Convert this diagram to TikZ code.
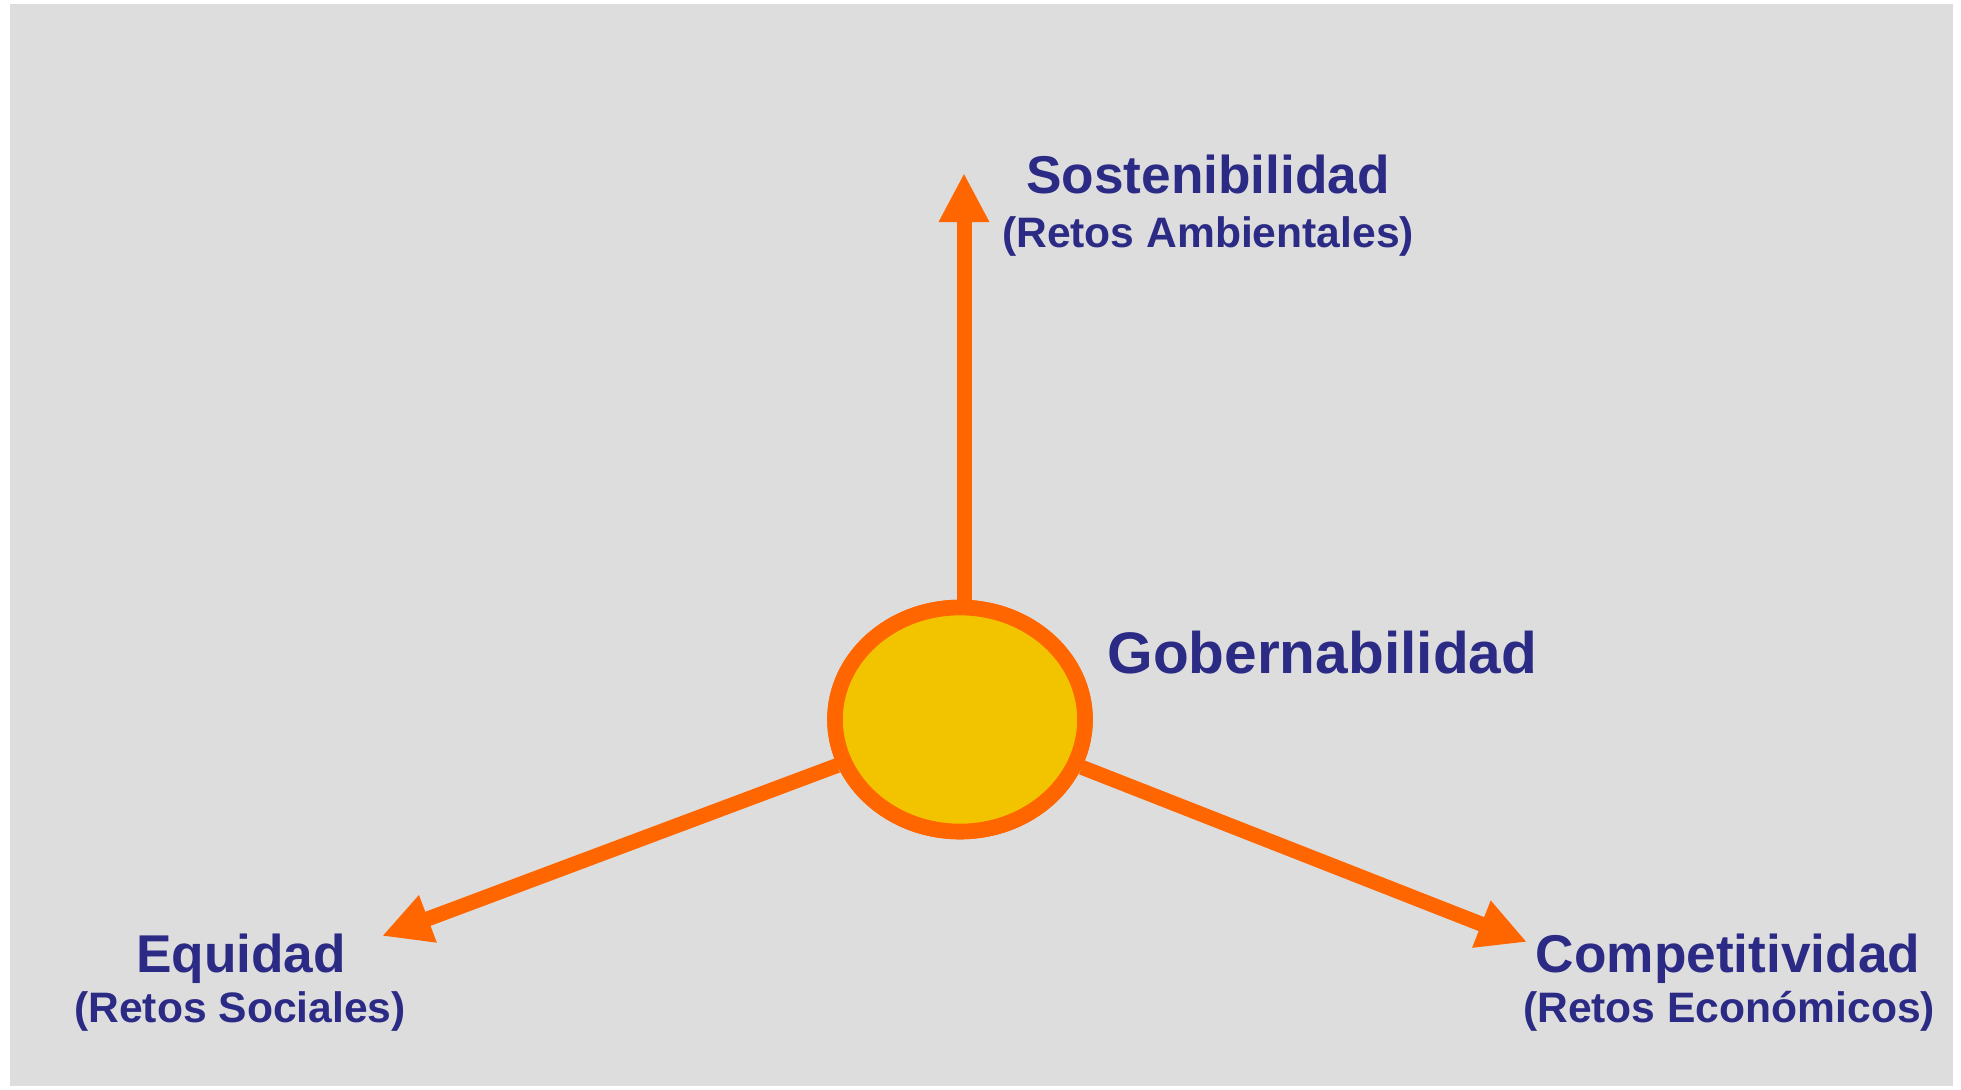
\documentclass[tikz,border=0pt]{standalone}
\usepackage{fontspec}
\setmainfont{Liberation Sans}
\usetikzlibrary{arrows.meta,shapes.geometric}
\definecolor{bggray}{HTML}{DDDDDD}
\definecolor{navy}{HTML}{2B2A85}
\definecolor{orng}{HTML}{FF6600}
\definecolor{yel}{HTML}{F2C400}
\tikzset{
  title/.style={text=navy, anchor=base, inner sep=0pt, font=\bfseries\fontsize{26.6pt}{30pt}\selectfont},
  subtitle/.style={text=navy, anchor=base, inner sep=0pt, font=\bfseries\fontsize{21.3pt}{24pt}\selectfont},
  axis/.style={draw=orng, line width=7.5pt, -{Triangle[width=23.5pt,length=24.5pt]}},
  hub/.style={ellipse, draw=orng, fill=yel, line width=7.8pt, minimum width=125pt, minimum height=112pt, inner sep=0pt}
}
\begin{document}
\begin{tikzpicture}[x=0.5pt,y=-0.5pt]
\useasboundingbox (0,0) rectangle (1961,1089);
\fill[bggray] (10,4) rectangle (1953,1086);
% tips
\coordinate (ts) at (964,173);
\coordinate (tl) at (382,936);
\coordinate (tr) at (1527,942);
\node[hub] (g) at (960,719.5) {};
\draw[axis] (g.north -| ts) -- (ts);
\draw[axis] (g) -- (tl);
\draw[axis] (g) -- (tr);
\node[hub] at (960,719.5) {};
% labels
\node[title] (s1) at (1208,193) {Sostenibilidad};
\node[subtitle] (s2) at (1208,247) {(Retos Ambientales)};
\node[title, font=\bfseries\fontsize{29.3pt}{32pt}\selectfont, anchor=base west] (gb) at (1107,673) {Gobernabilidad};
\node[title] (e1) at (241,972) {Equidad};
\node[subtitle] (e2) at (240,1022) {(Retos Sociales)};
\node[title] (c1) at (1728,972) {Competitividad};
\node[subtitle] (c2) at (1729,1022) {(Retos Económicos)};
\end{tikzpicture}
\end{document}
